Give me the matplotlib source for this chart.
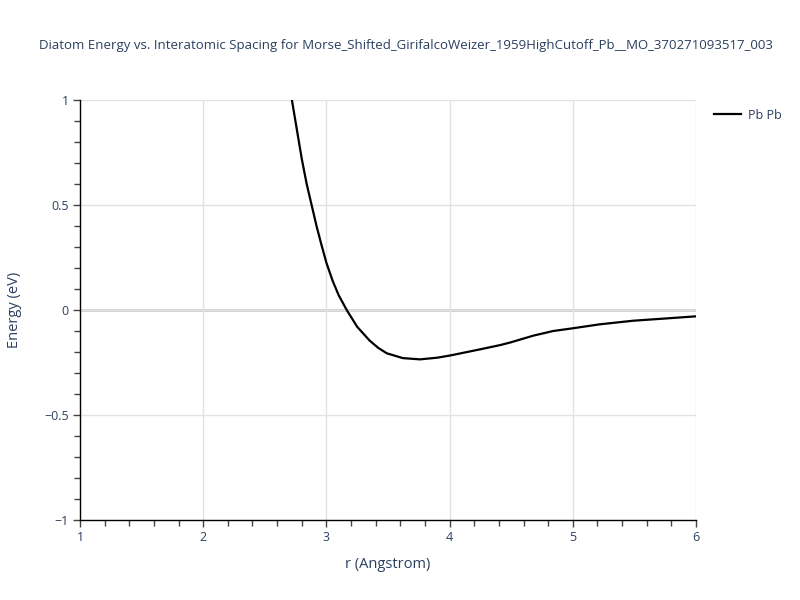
import matplotlib
matplotlib.use("Agg")
import matplotlib.pyplot as plt
from matplotlib.ticker import MultipleLocator, FuncFormatter

# values
r_vals = [2.72, 2.76, 2.80, 2.84, 2.88, 2.92, 2.96, 3.00, 3.05, 3.10, 3.165,
          3.25, 3.35, 3.42, 3.49, 3.62, 3.76, 3.90, 4.00, 4.25, 4.41, 4.49, 4.68,
          4.84, 5.00, 5.22, 5.49, 5.76, 6.00]
e_vals = [1.00, 0.86, 0.72, 0.60, 0.50, 0.40, 0.31, 0.225, 0.14, 0.07, 0.0,
          -0.08, -0.145, -0.18, -0.206, -0.229, -0.235, -0.227, -0.217, -0.187, -0.167, -0.155, -0.122,
          -0.100, -0.087, -0.068, -0.051, -0.040, -0.030]

title = "Diatom Energy vs. Interatomic Spacing for Morse_Shifted_GirifalcoWeizer_1959HighCutoff_Pb__MO_370271093517_003"
series_label = "Pb Pb"
txt = "#2a3f5f"

plt.rcParams["font.family"] = ["Open Sans", "DejaVu Sans"]

fig = plt.figure(figsize=(8, 6), dpi=100)
ax = fig.add_axes([0.1, 0.1333, 0.77, 0.7])

ax.plot(r_vals, e_vals, color="black", lw=1.6, label=series_label, zorder=3)

ax.set_xlim(1, 6)
ax.set_ylim(-1, 1)
ax.xaxis.set_major_locator(MultipleLocator(1))
ax.xaxis.set_minor_locator(MultipleLocator(0.2))
ax.yaxis.set_major_locator(MultipleLocator(0.5))
ax.yaxis.set_minor_locator(MultipleLocator(0.1))
fmt = FuncFormatter(lambda v, p: ("%g" % v).replace("-", "\u2212"))
ax.yaxis.set_major_formatter(fmt)

ax.grid(True, which="major", color="#e2e2e2", lw=1, zorder=0)
ax.axhline(0, color="#cccccc", lw=2, zorder=1)

for s in ["top", "right"]:
    ax.spines[s].set_visible(False)
for s in ["left", "bottom"]:
    ax.spines[s].set_color("black")
    ax.spines[s].set_linewidth(1)

ax.tick_params(which="major", length=5, width=1, color="#444444", labelcolor=txt, labelsize=9, pad=3)
ax.tick_params(which="minor", length=4, width=1, color="#444444")

ax.set_xlabel("r (Angstrom)", color=txt, fontsize=10.5, labelpad=9)
ax.set_ylabel("Energy (eV)", color=txt, fontsize=10.5, labelpad=16)
fig.text(0.508, 0.925, title, ha="center", va="center", color=txt, fontsize=9.5)

leg = ax.legend(loc="upper left", bbox_to_anchor=(1.015, 1.0), frameon=False,
                fontsize=9, handlelength=2.2, handletextpad=0.5, borderaxespad=0.3)
for t in leg.get_texts():
    t.set_color(txt)

fig.savefig("out.png", dpi=100)
